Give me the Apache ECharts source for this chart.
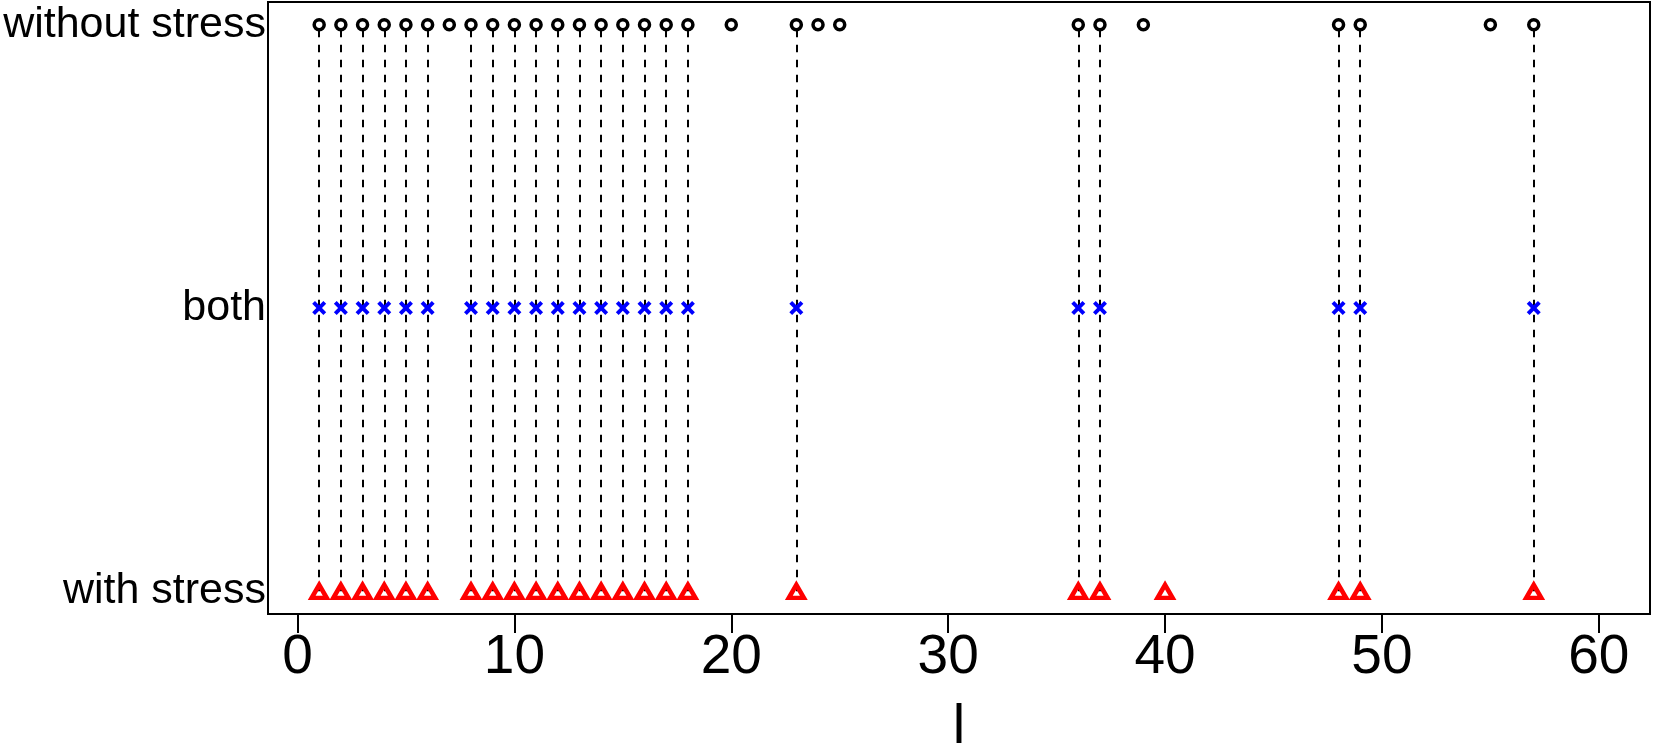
<!DOCTYPE html>
<html><head><meta charset="utf-8">
<script src="https://cdn.jsdelivr.net/npm/echarts@6/dist/echarts.min.js"></script>
<style>html,body{margin:0;padding:0;background:#fff;overflow:hidden}#c{width:1654px;height:748px}</style>
</head><body><div id="c"></div>
<script>
const yLabels = ['with stress', 'both', 'without stress'];
const xTicks = [0, 10, 20, 30, 40, 50, 60];
const withoutStress = [1,2,3,4,5,6,7,8,9,10,11,12,13,14,15,16,17,18,20,23,24,25,36,37,39,48,49,55,57];
const both = [1,2,3,4,5,6,8,9,10,11,12,13,14,15,16,17,18,23,36,37,48,49,57];
const withStress = [1,2,3,4,5,6,8,9,10,11,12,13,14,15,16,17,18,23,36,37,40,48,49,57];
const xName = 'l';

const chart = echarts.init(document.getElementById('c'), null, {renderer: 'canvas'});
const font = 'Liberation Sans, Arial, Helvetica, sans-serif';
const xPath = 'path://M0,2 L2,0 L5,3 L8,0 L10,2 L7,5 L10,8 L8,10 L5,7 L2,10 L0,8 L3,5 Z';

chart.setOption({
  animation: false,
  backgroundColor: '#fff',
  grid: {left: 268, right: 4, top: 2, bottom: 134, show: true, borderColor: '#000', borderWidth: 2,
    backgroundColor: 'transparent', containLabel: false, outerBoundsMode: 'none'},
  xAxis: {
    type: 'value', min: -1.36, max: 62.36,
    axisLine: {show: false},
    splitLine: {show: false},
    axisTick: {show: true, customValues: xTicks, length: 19, inside: false, lineStyle: {color: '#000', width: 2}},
    axisLabel: {customValues: xTicks, fontSize: 55, fontFamily: font, color: '#000', margin: 16},
    name: xName, nameLocation: 'middle', nameGap: 86, nameMoveOverlap: false,
    nameTextStyle: {fontSize: 56, fontFamily: font, color: '#000'}
  },
  yAxis: {
    type: 'value', min: 0.92, max: 3.08,
    axisLine: {show: false},
    splitLine: {show: false},
    axisTick: {show: false},
    axisLabel: {customValues: [1, 2, 3], fontSize: 43, fontFamily: font, color: '#000', margin: 2,
      formatter: v => yLabels[Math.round(v) - 1]}
  },
  series: [
    {
      type: 'lines', coordinateSystem: 'cartesian2d', silent: true, z: 1,
      lineStyle: {color: '#000', width: 2, type: [7.5, 7.5], dashOffset: 10, opacity: 1},
      data: both.map(x => ({coords: [[x, 3], [x, 1]]}))
    },
    {
      type: 'scatter', symbol: 'circle', symbolSize: 10, z: 3, silent: true,
      itemStyle: {color: '#fff', borderColor: '#000', borderWidth: 3.5, opacity: 1},
      data: withoutStress.map(x => [x, 3])
    },
    {
      type: 'scatter', symbol: xPath, symbolSize: 14, z: 3, silent: true,
      itemStyle: {color: '#0000ff', opacity: 1},
      data: both.map(x => [x, 2])
    },
    {
      type: 'scatter', symbol: 'triangle', symbolSize: [15, 13], z: 3, silent: true,
      itemStyle: {color: 'rgba(0,0,0,0)', borderColor: '#ff0000', borderWidth: 4.5, opacity: 1},
      data: withStress.map(x => [x, 1])
    }
  ]
});
</script>
</body></html>
